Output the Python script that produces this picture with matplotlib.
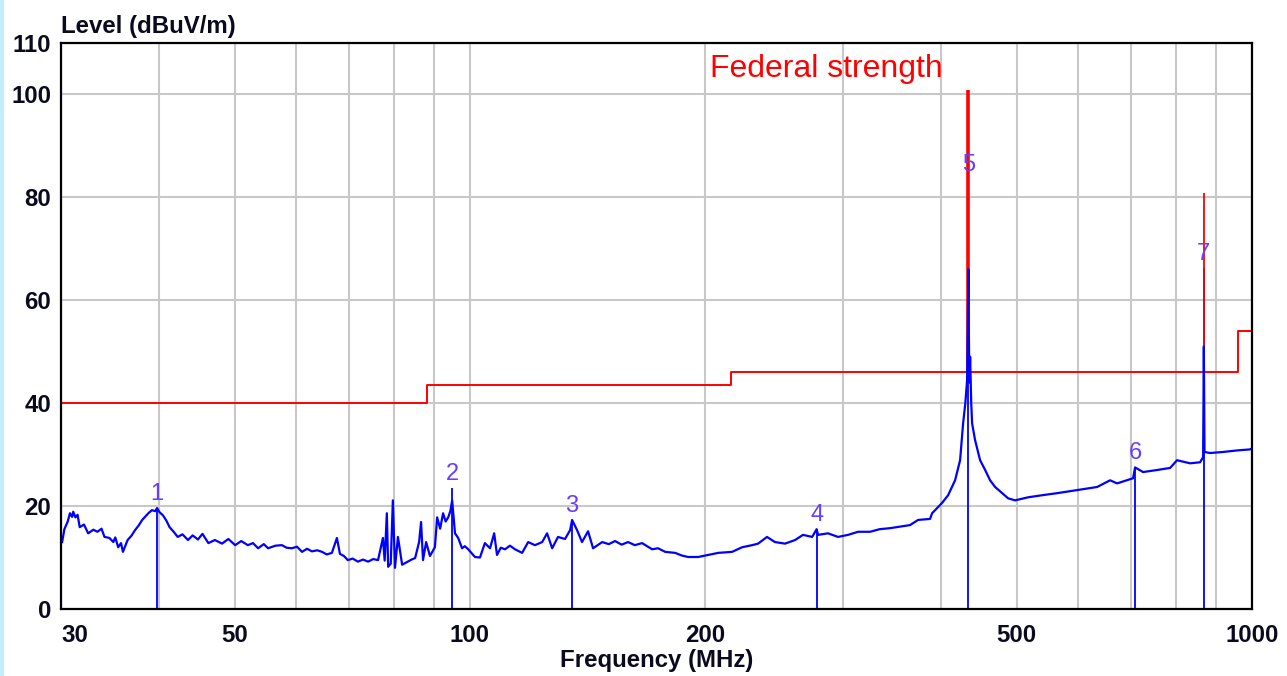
import numpy as np
import matplotlib
matplotlib.use("Agg")
import matplotlib.pyplot as plt
from matplotlib.patches import Rectangle

plt.rcParams['font.family'] = ['Liberation Sans', 'DejaVu Sans']

# measured trace (MHz, dBuV/m)
freq = [30.1, 30.3, 30.6, 30.8, 31.0, 31.1, 31.3, 31.5, 31.7, 32.1, 32.5, 33.0, 33.4, 33.8,
        34.1, 34.6, 35.0, 35.2, 35.5, 35.8, 36.0, 36.5, 36.9, 37.3, 37.7, 38.1, 38.8, 39.2,
        39.6, 39.8, 40.1, 40.5, 40.9, 41.3, 41.8, 42.3, 42.9, 43.6, 44.2, 44.9, 45.5, 46.3,
        47.2, 48.2, 49.1, 50.1, 51.0, 52.0, 52.8, 53.6, 54.5, 55.2, 56.4, 57.5, 58.3, 59.2,
        60.1, 61.0, 61.9, 62.8, 63.8, 64.7, 65.6, 66.6, 67.6, 68.2, 69.0, 69.8, 70.8, 71.9,
        73.0, 74.1, 75.2, 76.3, 77.4, 77.8, 78.3, 78.6, 79.2, 79.7, 80.2, 80.9, 81.9, 83.3,
        84.2, 85.1, 86.1, 86.6, 87.1, 87.9, 88.9, 90.2, 90.8, 91.6, 92.4, 93.1, 93.8, 94.4,
        94.9, 95.7, 96.6, 97.7, 98.5, 99.5, 101.5, 103.0, 104.5, 106.1, 107.4, 108.3, 109.5,
        110.9, 112.5, 114.2, 116.6, 118.7, 121.1, 123.7, 125.5, 127.4, 129.6, 132.3, 134.3,
        135.1, 137.1, 139.1, 141.6, 143.7, 147.6, 150.5, 153.3, 156.3, 159.3, 162.5, 166.0,
        171.0, 174.0, 177.7, 183.0, 186.5, 190.1, 195.8, 201.6, 207.7, 216.4, 222.9, 229.5,
        233.6, 239.8, 245.5, 252.9, 260.5, 266.6, 273.9, 277.5, 278.7, 287.0, 295.6, 304.4,
        313.6, 324.8, 334.0, 344.5, 355.0, 365.4, 374.1, 387.6, 389.9, 401.5, 408.7, 417.2,
        423.4, 427.2, 430.0, 432.2, 433.5, 433.9, 435.0, 436.1, 437.5, 438.7, 442.5, 449.1,
        455.8, 462.5, 469.4, 479.2, 487.7, 497.8, 517.4, 539.1, 563.5, 597.5, 633.8, 658.5,
        672.2, 704.6, 708.8, 725.6, 756.2, 785.8, 802.0, 833.3, 858.3, 866.0, 867.8, 869.5,
        883.9, 918.3, 957.0, 994.3, 1000.0]
level = [13.0, 15.5, 17.0, 18.6, 17.9, 18.9, 17.8, 18.3, 15.9, 16.4, 14.7, 15.4, 15.0, 15.6,
         14.0, 13.8, 13.0, 13.9, 12.0, 12.8, 11.1, 13.4, 14.2, 15.3, 16.2, 17.3, 18.6, 19.2,
         19.0, 19.6, 18.8, 18.2, 17.2, 15.9, 15.0, 14.0, 14.5, 13.4, 14.3, 13.5, 14.6, 12.8,
         13.4, 12.7, 13.6, 12.4, 13.2, 12.4, 12.8, 11.8, 12.6, 11.8, 12.3, 12.4, 11.9, 11.8,
         12.1, 11.1, 11.7, 11.2, 11.4, 11.1, 10.6, 10.9, 13.8, 10.7, 10.3, 9.5, 9.8, 9.2,
         9.6, 9.2, 9.7, 9.5, 13.8, 9.4, 18.6, 8.2, 8.8, 21.1, 8.0, 14.0, 8.6, 9.2,
         9.6, 9.9, 13.0, 16.9, 9.5, 13.0, 10.3, 12.0, 17.8, 15.6, 18.6, 17.0, 17.8, 19.0,
         21.1, 14.7, 13.8, 11.8, 12.2, 11.6, 10.1, 10.0, 12.8, 11.8, 14.7, 10.5, 11.9,
         11.6, 12.3, 11.6, 10.9, 13.0, 12.4, 13.0, 14.7, 11.8, 14.0, 13.6, 15.3,
         17.3, 15.3, 13.0, 15.1, 11.8, 13.0, 12.6, 13.2, 12.5, 13.0, 12.4, 12.8,
         11.6, 11.8, 11.1, 10.9, 10.4, 10.1, 10.1, 10.5, 10.9, 11.1, 12.0, 12.4,
         12.7, 14.0, 13.0, 12.7, 13.4, 14.4, 14.0, 15.5, 14.4, 14.7, 14.0, 14.4,
         15.0, 15.0, 15.5, 15.7, 16.0, 16.3, 17.3, 17.5, 18.6, 20.6, 22.1, 25.0,
         28.9, 36.1, 40.0, 44.4, 60.0, 66.0, 44.0, 49.0, 40.0, 36.0, 32.8, 28.9,
         27.0, 25.0, 23.7, 22.5, 21.5, 21.1, 21.7, 22.1, 22.5, 23.1, 23.7, 25.0,
         24.4, 25.4, 27.5, 26.6, 27.0, 27.4, 28.9, 28.3, 28.5, 29.5, 51.0, 30.5,
         30.3, 30.5, 30.8, 31.0, 31.2]

# limit line
lim_freq = [30, 88, 216, 960, 1000]
lim_level = [40, 43.5, 46, 54, 54]

# federal strength spikes
fed_freq = [433.92, 867.84]
fed_level = [100.8, 80.8]

# markers
mk_freq = [39.8, 94.9, 135.1, 277.5, 433.9, 708.8, 867.8]
mk_level = [19.6, 23.5, 17.3, 15.5, 83.6, 27.5, 66.3]
mk_label = ['1', '2', '3', '4', '5', '6', '7']

fig = plt.figure(figsize=(12.87, 6.76), dpi=100)
fig.patches.append(Rectangle((0, 0), 3 / 1287, 1, transform=fig.transFigure,
                             color='#c5ecfb', zorder=0))
ax = fig.add_axes([61 / 1287, 67 / 676, 1191 / 1287, 566.3 / 676])
ax.set_xscale('log')
ax.set_xlim(30, 1000)
ax.set_ylim(0, 110)

xt = [30, 40, 50, 60, 70, 80, 90, 100, 200, 300, 400, 500, 600, 700, 800, 900, 1000]
ax.set_xticks(xt)
ax.set_xticklabels(['30', '', '50', '', '', '', '', '100', '200', '', '', '500', '', '', '', '', '1000'])
ax.xaxis.set_minor_locator(matplotlib.ticker.NullLocator())
ax.set_yticks([0, 20, 40, 60, 80, 100, 110])
ax.grid(True, color='#c8c8c8', linewidth=1.5)
ax.set_axisbelow(True)
ax.tick_params(length=0, labelsize=17.3, pad=7, colors='#0a0a1e')
ax.tick_params(axis='x', pad=11)
for lab in ax.get_xticklabels() + ax.get_yticklabels():
    lab.set_fontweight('bold')
ax.get_xticklabels()[0].set_horizontalalignment('left')
for s in ax.spines.values():
    s.set_linewidth(1.6)
    s.set_color('black')
    s.set_zorder(10)

ax.vlines(mk_freq, 0, mk_level, color='#0000ff', linewidth=1.3, zorder=2)
for f, v, t in zip(mk_freq, mk_level, mk_label):
    ax.text(f, v + 0.6, t, color='#6a3cff', fontsize=17, ha='center', va='bottom', zorder=6)

ax.step(lim_freq, lim_level, where='post', color='#ff0000', linewidth=1.4, zorder=3)
ax.vlines(fed_freq[0], lim_level[2], fed_level[0], color='#ff0000', linewidth=2.6, zorder=3)
ax.vlines(fed_freq[1], lim_level[2], fed_level[1], color='#ff0000', linewidth=1.3, zorder=3)
ax.plot(freq, level, color='#0000ff', linewidth=1.6, zorder=4)

ax.text(203, 104.9, 'Federal strength', color='#ff0000', fontsize=23, ha='left',
        va='center')

fig.text(61 / 1287, 1 - 33 / 676, 'Level (dBuV/m)', fontsize=17.3, fontweight='bold',
         color='#0a0a1e', ha='left', va='baseline')
fig.text(657 / 1287, 1 - 667 / 676, 'Frequency (MHz)', fontsize=17.3, fontweight='bold',
         color='#0a0a1e', ha='center', va='baseline')

fig.savefig('out.png', dpi=100)
